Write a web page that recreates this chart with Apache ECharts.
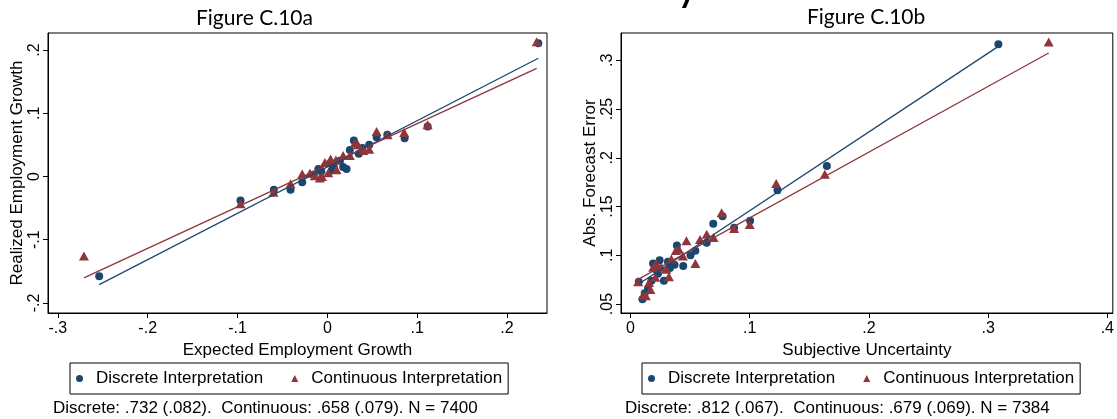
<!DOCTYPE html>
<html>
<head>
<meta charset="utf-8">
<title>Figure C.10</title>
<script src="https://cdn.jsdelivr.net/npm/echarts@6/dist/echarts.min.js"></script>
<style>
  html, body { margin: 0; padding: 0; background: #fff; }
  #chart { width: 1117px; height: 419px; }
</style>
</head>
<body>
<div id="chart"></div>
<script>
// Figure C.10a - expected vs realized employment growth (binned means)
const discreteA = [
  [-0.254, -0.158], [-0.0967, -0.038], [-0.0596, -0.021], [-0.041, -0.021],
  [-0.028, -0.009], [-0.015, 0.003], [-0.010, 0.012], [-0.0067, 0.008],
  [0.003, 0.021], [0.005, 0.010], [0.0072, 0.0158], [0.014, 0.025],
  [0.0176, 0.0148], [0.0214, 0.012], [0.025, 0.042], [0.0295, 0.057],
  [0.035, 0.036], [0.039, 0.045], [0.0466, 0.050], [0.0548, 0.062],
  [0.0667, 0.066], [0.086, 0.0606], [0.1116, 0.079], [0.2348, 0.2107]
];
const continuousA = [
  [-0.271, -0.126], [-0.0967, -0.043], [-0.060, -0.025], [-0.041, -0.0115],
  [-0.028, 0.004], [-0.0195, 0.005], [-0.014, 0.001], [-0.0084, -0.0025],
  [-0.006, 0.0], [-0.0028, 0.022], [0.001, 0.006], [0.0036, 0.0275],
  [0.0102, 0.0106], [0.0095, 0.026], [0.0176, 0.033], [0.025, 0.033],
  [0.0306, 0.053], [0.034, 0.050], [0.040, 0.041], [0.0466, 0.043],
  [0.0548, 0.071], [0.067, 0.066], [0.0855, 0.0695], [0.1116, 0.0817],
  [0.233, 0.213]
];
// linear fit end points
const fitDiscreteA = [[-0.254, -0.171], [0.2348, 0.187]];
const fitContinuousA = [[-0.271, -0.1605], [0.233, 0.171]];
const xTicksA = [-0.3, -0.2, -0.1, 0, 0.1, 0.2];
const yTicksA = [-0.2, -0.1, 0, 0.1, 0.2];

// Figure C.10b - subjective uncertainty vs absolute forecast error
const discreteB = [
  [0.0069, 0.0729], [0.010, 0.0548], [0.0119, 0.061], [0.0147, 0.066],
  [0.0175, 0.0739], [0.0189, 0.0917], [0.0211, 0.0856], [0.023, 0.081],
  [0.0244, 0.095], [0.028, 0.0739], [0.0314, 0.0933], [0.033, 0.087],
  [0.0369, 0.0903], [0.0389, 0.110], [0.0442, 0.0889], [0.0503, 0.100],
  [0.0544, 0.1046], [0.0639, 0.1128], [0.0694, 0.1323], [0.0772, 0.140],
  [0.0869, 0.1282], [0.1003, 0.1354], [0.1233, 0.1668], [0.1647, 0.1917],
  [0.3086, 0.3164]
];
const continuousB = [
  [0.0064, 0.0729], [0.0105, 0.059], [0.0128, 0.0585], [0.0155, 0.0722],
  [0.0167, 0.065], [0.019, 0.0876], [0.0208, 0.0774], [0.0217, 0.0917],
  [0.0258, 0.0876], [0.030, 0.0856], [0.0322, 0.078], [0.0342, 0.0961],
  [0.038, 0.105], [0.0405, 0.1063], [0.0439, 0.0992], [0.0469, 0.1149],
  [0.0544, 0.0917], [0.0583, 0.1163], [0.0639, 0.1217], [0.0697, 0.1183],
  [0.0764, 0.1436], [0.0869, 0.1276], [0.100, 0.1317], [0.1222, 0.1737],
  [0.163, 0.1832], [0.3508, 0.3188]
];
const fitDiscreteB = [[0.0069, 0.0705], [0.3086, 0.3143]];
const fitContinuousB = [[0.0064, 0.0753], [0.3508, 0.3075]];
const xTicksB = [0, 0.1, 0.2, 0.3, 0.4];
const yTicksB = [0.05, 0.1, 0.15, 0.2, 0.25, 0.3];

const seriesNames = ['Discrete Interpretation', 'Continuous Interpretation'];
const titles = ['Figure C.10a', 'Figure C.10b'];
const notes = [
  'Discrete: .732 (.082).  Continuous: .658 (.079). N = 7400',
  'Discrete: .812 (.067).  Continuous: .679 (.069). N = 7384'
];

const NAVY = '#1a476f';
const MAROON = '#90353b';
const FONT = '"Liberation Sans", Arial, sans-serif';

// stata style labels: .1 instead of 0.1
function stataFmt(v) {
  const r = Math.round(v * 1000) / 1000;
  if (r === 0) return '0';
  return String(r).replace(/^(-?)0\./, '$1.');
}

function valueAxis(gridIndex, min, max, ticks, name, isY, nameGap) {
  return {
    type: 'value',
    gridIndex: gridIndex,
    min: min,
    max: max,
    name: name,
    nameLocation: 'middle',
    nameGap: nameGap,
    nameTextStyle: { fontFamily: FONT, fontSize: 17, color: '#000' },
    axisLine: { show: true, onZero: false, lineStyle: { color: '#000', width: 1 } },
    axisTick: { show: true, length: 5, customValues: ticks, lineStyle: { color: '#000', width: 1 } },
    axisLabel: {
      customValues: ticks,
      formatter: stataFmt,
      rotate: isY ? 90 : 0,
      margin: isY ? 5 : 8,
      fontFamily: FONT,
      fontSize: 16,
      color: '#000'
    },
    splitLine: { show: false }
  };
}

function legendAt(left) {
  return {
    left: left,
    top: 363,
    data: seriesNames,
    orient: 'horizontal',
    itemWidth: 7,
    itemHeight: 7,
    itemGap: 28,
    padding: [7, 6],
    borderColor: '#000',
    borderWidth: 1,
    selectedMode: false,
    itemStyle: { opacity: 1 },
    textStyle: { fontFamily: FONT, fontSize: 17, color: '#000', padding: [0, 0, 0, 8] }
  };
}

const chart = echarts.init(document.getElementById('chart'), null, { renderer: 'canvas' });

const option = {
  animation: false,
  backgroundColor: '#fff',
  grid: [
    { left: 48, right: 570, top: 33, bottom: 106, show: true, borderColor: '#000', borderWidth: 1 },
    { left: 621, right: 1, top: 33, bottom: 106, show: true, borderColor: '#000', borderWidth: 1 }
  ],
  xAxis: [
    valueAxis(0, -0.311, 0.2445, xTicksA, 'Expected Employment Growth', false, 26),
    valueAxis(1, -0.008, 0.4046, xTicksB, 'Subjective Uncertainty', false, 26)
  ],
  yAxis: [
    valueAxis(0, -0.216, 0.227, yTicksA, 'Realized Employment Growth', true, 16),
    valueAxis(1, 0.0408, 0.328, yTicksB, 'Abs. Forecast Error', true, 16)
  ],
  legend: [legendAt(70), legendAt(642)],
  graphic: [
    { type: 'text', left: 196, top: 8, style: { text: titles[0], fontFamily: 'Lato, "Open Sans", sans-serif', fontSize: 21, fill: '#000' } },
    { type: 'text', left: 807, top: 7, style: { text: titles[1], fontFamily: 'Lato, "Open Sans", sans-serif', fontSize: 21, fill: '#000' } },
    { type: 'text', x: 678, y: -26, style: { text: 'y', fontFamily: 'Lato, sans-serif', fontWeight: 'bold', fontSize: 34, fill: '#000' } },
    { type: 'text', left: 53, top: 400, style: { text: notes[0], fontFamily: FONT, fontSize: 17, fill: '#000' } },
    { type: 'text', left: 625, top: 400, style: { text: notes[1], fontFamily: FONT, fontSize: 17, fill: '#000' } }
  ],
  series: [
    { type: 'scatter', name: seriesNames[0], xAxisIndex: 0, yAxisIndex: 0, data: discreteA,
      symbol: 'circle', symbolSize: 8, itemStyle: { color: NAVY, opacity: 1 } },
    { type: 'scatter', name: seriesNames[1], xAxisIndex: 0, yAxisIndex: 0, data: continuousA,
      symbol: 'triangle', symbolSize: [10, 9], itemStyle: { color: MAROON, opacity: 1 } },
    { type: 'line', name: 'fitD_a', xAxisIndex: 0, yAxisIndex: 0, data: fitDiscreteA,
      symbol: 'none', silent: true, lineStyle: { color: NAVY, width: 1.3 } },
    { type: 'line', name: 'fitC_a', xAxisIndex: 0, yAxisIndex: 0, data: fitContinuousA,
      symbol: 'none', silent: true, lineStyle: { color: MAROON, width: 1.3 } },

    { type: 'scatter', name: seriesNames[0], xAxisIndex: 1, yAxisIndex: 1, data: discreteB,
      symbol: 'circle', symbolSize: 8, itemStyle: { color: NAVY, opacity: 1 } },
    { type: 'scatter', name: seriesNames[1], xAxisIndex: 1, yAxisIndex: 1, data: continuousB,
      symbol: 'triangle', symbolSize: [10, 9], itemStyle: { color: MAROON, opacity: 1 } },
    { type: 'line', name: 'fitD_b', xAxisIndex: 1, yAxisIndex: 1, data: fitDiscreteB,
      symbol: 'none', silent: true, lineStyle: { color: NAVY, width: 1.3 } },
    { type: 'line', name: 'fitC_b', xAxisIndex: 1, yAxisIndex: 1, data: fitContinuousB,
      symbol: 'none', silent: true, lineStyle: { color: MAROON, width: 1.3 } }
  ]
};

chart.setOption(option);
</script>
</body>
</html>
